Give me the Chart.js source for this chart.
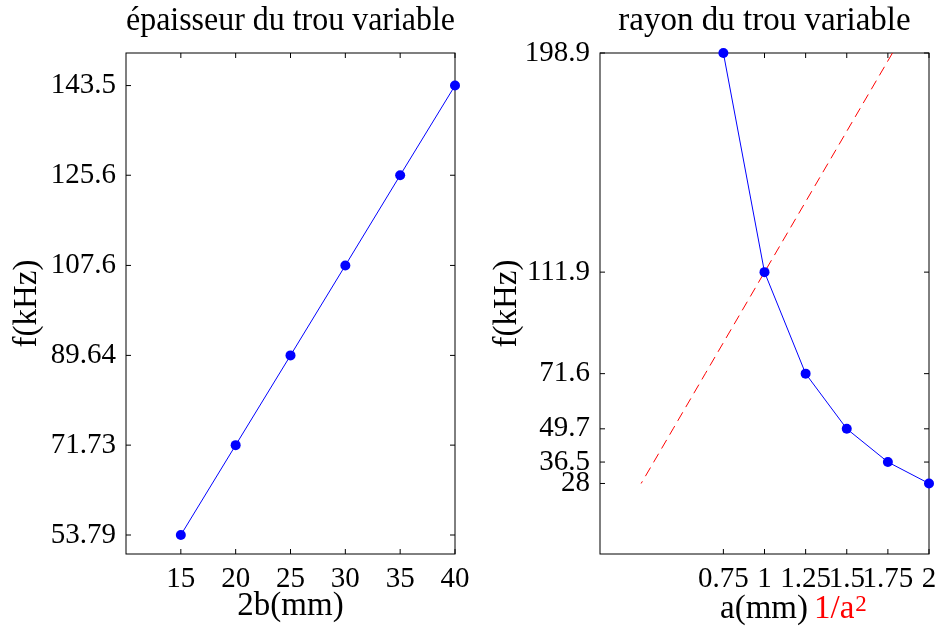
<!DOCTYPE html>
<html>
<head>
<meta charset="utf-8">
<script src="https://cdn.jsdelivr.net/npm/chart.js@4/dist/chart.umd.min.js"></script>
<style>
  body { margin: 0; background: #fff; width: 937px; height: 626px; position: relative; overflow: hidden; }
  canvas { position: absolute; top: 0; }
  #gauche { left: 0; }
  #droite { left: 480px; }
</style>
</head>
<body>
<canvas id="gauche" width="480" height="626"></canvas>
<canvas id="droite" width="465" height="626"></canvas>
<script>
// Données : épaisseur du trou variable
const epaisseur = [15, 20, 25, 30, 35, 40];
const freqEpaisseur = [53.79, 71.73, 89.64, 107.6, 125.6, 143.5];
const ticksEpaisseurX = [15, 20, 25, 30, 35, 40];
const ticksEpaisseurY = [53.79, 71.73, 89.64, 107.6, 125.6, 143.5];

// Données : rayon du trou variable
const rayon = [0.75, 1, 1.25, 1.5, 1.75, 2];
const freqRayon = [198.9, 111.9, 71.6, 49.7, 36.5, 28];
const invRayon2 = [1.778, 1, 0.64, 0.4444, 0.3265, 0.25];
const ticksRayonX = [0.75, 1, 1.25, 1.5, 1.75, 2];
const ticksRayonY = [28, 36.5, 49.7, 71.6, 111.9, 198.9];

const POLICE = '"Liberation Serif", "DejaVu Serif", serif';
const TAILLE_GRAD = 29;   // graduations
const TAILLE_TEXTE = 33;  // titres et noms d'axes
Chart.defaults.color = '#000';
Chart.defaults.font.family = POLICE;
Chart.defaults.font.size = TAILLE_GRAD;

// cadre + graduations vers l'intérieur
const cadre = {
  id: 'cadre',
  beforeDatasetsDraw(chart) {
    const { ctx, chartArea: a, scales } = chart;
    ctx.save();
    ctx.strokeStyle = '#000';
    ctx.lineWidth = 1;
    ctx.strokeRect(a.left, a.top, a.right - a.left, a.bottom - a.top);
    ctx.beginPath();
    scales.x.ticks.forEach(t => {
      const p = scales.x.getPixelForValue(t.value);
      ctx.moveTo(p, a.bottom); ctx.lineTo(p, a.bottom - 5);
      ctx.moveTo(p, a.top); ctx.lineTo(p, a.top + 5);
    });
    scales.y.ticks.forEach(t => {
      const p = scales.y.getPixelForValue(t.value);
      ctx.moveTo(a.left, p); ctx.lineTo(a.left + 5, p);
      ctx.moveTo(a.right, p); ctx.lineTo(a.right - 5, p);
    });
    ctx.stroke();
    ctx.restore();
  }
};

// étiquette x en deux couleurs : a(mm) 1/a²
const etiquetteRayon = {
  id: 'etiquetteRayon',
  afterDraw(chart) {
    const { ctx, chartArea: a } = chart;
    ctx.save();
    ctx.textBaseline = 'alphabetic';
    ctx.font = TAILLE_TEXTE + 'px ' + POLICE;
    const x = a.left + 120;
    const y = 618;
    ctx.fillStyle = '#000';
    ctx.fillText('a(mm)', x, y);
    const w1 = ctx.measureText('a(mm)').width;
    ctx.fillStyle = '#ff0000';
    ctx.fillText('1/a', x + w1 + 6, y);
    const w2 = ctx.measureText('1/a').width;
    ctx.font = '23px ' + POLICE;
    ctx.fillText('2', x + w1 + 6 + w2 + 1, y - 7);
    ctx.restore();
  }
};

function graduations(valeurs) {
  return scale => { scale.ticks = valeurs.map(v => ({ value: v })); };
}

function axeX(min, max, valeurs, titre) {
  return {
    type: 'linear', min: min, max: max,
    afterBuildTicks: graduations(valeurs),
    afterFit: s => { s.height = 72; },
    grid: { display: false, drawTicks: false },
    border: { display: false },
    ticks: { autoSkip: false, maxRotation: 0, padding: 8, callback: v => String(v) },
    title: { display: !!titre, text: titre, font: { size: TAILLE_TEXTE }, padding: { top: 0, bottom: 0 } }
  };
}

function axeY(min, max, valeurs, largeur) {
  return {
    type: 'linear', min: min, max: max,
    afterBuildTicks: graduations(valeurs),
    afterFit: s => { s.width = largeur; },
    grid: { display: false, drawTicks: false },
    border: { display: false },
    ticks: { autoSkip: false, padding: 10, callback: v => String(v) },
    title: { display: true, text: 'f(kHz)', font: { size: TAILLE_TEXTE }, padding: { top: 8, bottom: 0 } }
  };
}

function titre(texte) {
  return {
    display: true, text: texte, fullSize: false,
    font: { size: TAILLE_TEXTE, weight: 'normal' },
    padding: { top: 1.5, bottom: 11.9 }
  };
}

new Chart(document.getElementById('gauche'), {
  type: 'line',
  data: {
    datasets: [{
      data: epaisseur.map((x, i) => ({ x: x, y: freqEpaisseur[i] })),
      borderColor: '#0000ff', backgroundColor: '#0000ff',
      borderWidth: 1, pointRadius: 5, pointBorderWidth: 0, clip: false
    }]
  },
  options: {
    responsive: false, animation: false, devicePixelRatio: 1,
    layout: { padding: { top: 0, right: 25, bottom: 0, left: 0 } },
    plugins: { legend: { display: false }, tooltip: { enabled: false }, title: titre('épaisseur du trou variable') },
    scales: {
      x: axeX(10, 40, ticksEpaisseurX, '2b(mm)'),
      y: axeY(50, 150, ticksEpaisseurY, 126)
    }
  },
  plugins: [cadre]
});

new Chart(document.getElementById('droite'), {
  type: 'line',
  data: {
    datasets: [{
      data: rayon.map((x, i) => ({ x: x, y: freqRayon[i] })),
      borderColor: '#0000ff', backgroundColor: '#0000ff',
      borderWidth: 1, pointRadius: 5, pointBorderWidth: 0, clip: false
    }, {
      data: invRayon2.map((x, i) => ({ x: x, y: freqRayon[i] })),
      borderColor: '#ff0000', borderWidth: 1, borderDash: [10, 6],
      pointRadius: 0, clip: false
    }]
  },
  options: {
    responsive: false, animation: false, devicePixelRatio: 1,
    layout: { padding: { top: 0, right: 16, bottom: 0, left: 0 } },
    plugins: { legend: { display: false }, tooltip: { enabled: false }, title: titre('rayon du trou variable') },
    scales: {
      x: axeX(0, 2, ticksRayonX, ''),
      y: axeY(0, 198.9, ticksRayonY, 120)
    }
  },
  plugins: [cadre, etiquetteRayon]
});
</script>
</body>
</html>
